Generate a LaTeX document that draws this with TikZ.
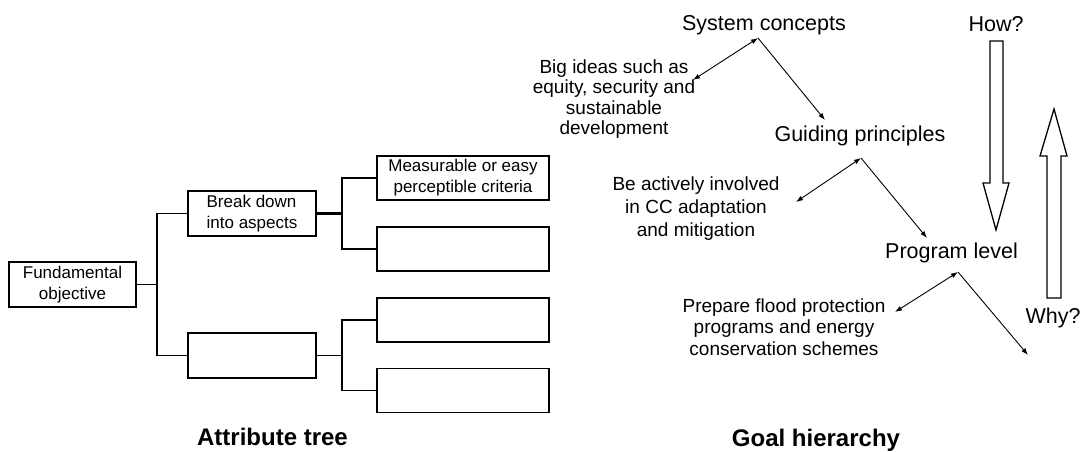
\documentclass[tikz,border=0pt]{standalone}
\usepackage{fontspec}
\setmainfont{Liberation Sans}
\usetikzlibrary{arrows.meta}

\begin{document}
\begin{tikzpicture}[x=1pt, y=-1pt,
        box/.style={draw, line width=1.6pt, inner sep=0pt, align=center,
            minimum width=128pt, minimum height=45pt,
            font=\fontsize{17}{21}\selectfont},
        leaf/.style={box, minimum width=172pt, minimum height=44pt},
        level/.style={font=\fontsize{21.5}{26}\selectfont},
        note/.style={align=center, font=\fontsize{19}{20.5}\selectfont},
        heading/.style={font=\fontsize{24}{28}\selectfont\bfseries},
        link/.style={line width=1.5pt},
        pointer/.style={line width=0.9pt, -{Latex[length=7pt,width=5pt]}},
        twoway/.style={line width=0.9pt, {Latex[length=7pt,width=5pt]}-{Latex[length=7pt,width=5pt]}},
        hollow/.style={line width=1.3pt, line join=miter}]
            \useasboundingbox (0,0) rectangle (1084,452);

            % Attribute tree
            \node[box, minimum width=127pt] (fund) at (72.5,284.5) {Fundamental\\objective};
            \node[box, align=left] (brk) at (252,213.5) {Break down\\into aspects};
            \node[box] (aspect) at (252,355.5) {};
            \node[leaf] (crit) at (463,178) {Measurable or easy\\perceptible criteria};
            \node[leaf] (leafb) at (463,249) {};
            \node[leaf] (leafc) at (463,320) {};
            \node[leaf] (leafd) at (463,390.5) {};
            \coordinate (ja) at (157,0);
            \coordinate (jb) at (342,0);

            \draw[link] (fund.east) -- (fund.east -| ja);
            \draw[link] (brk.west) -- (brk.west -| ja) -- (aspect.west -| ja) -- (aspect.west);
            \draw[line width=2.6pt] (brk.east) -- (brk.east -| jb);
            \draw[link] (crit.west) -- (crit.west -| jb) -- (leafb.west -| jb) -- (leafb.west);
            \draw[link] (aspect.east) -- (aspect.east -| jb);
            \draw[link] (leafc.west) -- (leafc.west -| jb) -- (leafd.west -| jb) -- (leafd.west);

            \node[heading] (attr) at (272.5,437) {Attribute tree};

            % Goal hierarchy
            \node[level] (sys) at (764,25) {System concepts};
            \node[level] (guide) at (860,136) {Guiding principles};
            \node[level] (prog) at (951.5,253) {Program level};
            \node[note] (ideas) at (614,99) {Big ideas such as\\equity, security and\\sustainable\\development};
            \node[note, font=\fontsize{19}{23}\selectfont] (act) at (696,209) {Be actively involved\\in CC adaptation\\and mitigation};
            \node[note, font=\fontsize{19}{21.5}\selectfont] (prep) at (784,327) {Prepare flood protection\\programs and energy\\conservation schemes};
            \node[heading] (goal) at (816,440) {Goal hierarchy};

            \coordinate (sysp) at (758,38);
            \coordinate (ideasp) at (693,80);
            \coordinate (guidein) at (825,120);
            \coordinate (guidep) at (861,158);
            \coordinate (actp) at (796,202);
            \coordinate (progin) at (927,238);
            \coordinate (progp) at (958,272);
            \coordinate (prepp) at (895,312);
            \coordinate (progout) at (1028,355);

            \draw[twoway] (ideasp) -- (sysp);
            \draw[pointer] (sysp) -- (guidein);
            \draw[twoway] (actp) -- (guidep);
            \draw[pointer] (guidep) -- (progin);
            \draw[twoway] (prepp) -- (progp);
            \draw[pointer] (progp) -- (progout);

            % How? and Why?
            \node[level] (how) at (996,24) {How?};
            \node[level] (why) at (1053,318) {Why?};
            \draw[hollow] (990,41) -- (1003,41) -- (1003,183) -- (1009,183) -- (996,230)
                -- (983,183) -- (990,183) -- cycle;
            \draw[hollow] (1047,298) -- (1061,298) -- (1061,156) -- (1067,156) -- (1054,109)
                -- (1040,156) -- (1047,156) -- cycle;
        \end{tikzpicture}
\end{document}
